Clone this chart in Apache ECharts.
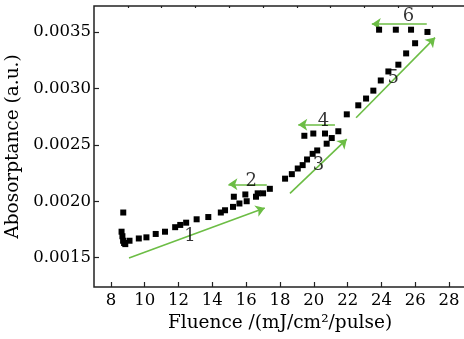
<!DOCTYPE html>
<html>
<head>
<meta charset="utf-8">
<script src="https://cdn.jsdelivr.net/npm/echarts@6/dist/echarts.min.js"></script>
<style>html,body{margin:0;padding:0;background:#fff}#c{width:464px;height:339px}</style>
</head>
<body>
<div id="c"></div>
<script>
// Measured points
const fluence = [8.63, 8.68, 8.72, 8.78, 8.85, 8.73, 9.1, 9.65, 10.1, 10.65, 11.2, 11.8, 12.1, 12.45, 13.07, 13.76, 14.5, 14.75, 15.22, 15.27, 15.6, 15.95, 16.03, 16.58, 16.68, 17.0, 17.4,
  18.3, 18.7, 19.05, 19.34, 19.6, 19.93, 20.2, 20.76, 21.06, 21.45, 19.44, 19.97, 20.66,
  21.95, 22.63, 23.09, 23.52, 23.96, 24.41, 25.0, 25.46, 25.99, 26.72, 23.86, 24.85, 25.75];
const absorptance = [0.00173, 0.00169, 0.00165, 0.00163, 0.00162, 0.00190, 0.00165, 0.00167, 0.00168, 0.00171, 0.00173, 0.00177, 0.00179, 0.00181, 0.00184, 0.00186, 0.00190, 0.00192, 0.00195, 0.00204, 0.00198, 0.00206, 0.00200, 0.00204, 0.00207, 0.00207, 0.00211,
  0.00220, 0.00224, 0.00229, 0.00232, 0.00237, 0.00242, 0.00245, 0.00251, 0.00256, 0.00262, 0.00258, 0.00260, 0.00260,
  0.00277, 0.00285, 0.00291, 0.00298, 0.00307, 0.00315, 0.00321, 0.00331, 0.00340, 0.00350, 0.00352, 0.00352, 0.00352];

// Arrows (start -> end)
const arrowStartX = [9.07, 17.22, 18.59, 21.25, 22.5, 26.68];
const arrowStartY = [0.001497, 0.00215, 0.00207, 0.002677, 0.00274, 0.00357];
const arrowEndX = [17.1, 14.95, 21.95, 19.08, 27.17, 23.43];
const arrowEndY = [0.00194, 0.00215, 0.00255, 0.002677, 0.00345, 0.00357];

// Region labels
const labelText = ['1', '2', '3', '4', '5', '6'];
const labelX = [12.67, 16.3, 20.27, 20.57, 24.7, 25.6];
const labelY = [0.00169, 0.00218, 0.00232, 0.00271, 0.00309, 0.00364];

// Ticks
const xMajor = [8, 10, 12, 14, 16, 18, 20, 22, 24, 26, 28];
const xMinor = [9, 11, 13, 15, 17, 19, 21, 23, 25, 27];
const yMajor = [0.0015, 0.0020, 0.0025, 0.0030, 0.0035];
const yMinor = [0.00175, 0.00225, 0.00275, 0.00325];

const FONT = 'DejaVu Serif';
const chart = echarts.init(document.getElementById('c'));

const xBase = {type: 'value', min: 7, max: 29, splitLine: {show: false}, axisLine: {show: false}};
const yBase = {type: 'value', min: 0.00124, max: 0.00373, splitLine: {show: false}, axisLine: {show: false}};

chart.setOption({
  animation: false,
  grid: {left: 94, top: 6, width: 372, height: 281, outerBoundsMode: 'none', containLabel: false,
         show: true, borderColor: '#222', borderWidth: 1.5, backgroundColor: 'transparent'},
  xAxis: [
    Object.assign({}, xBase, {
      name: 'Fluence /(mJ/cm²/pulse)', nameLocation: 'middle', nameGap: 25,
      nameTextStyle: {fontFamily: FONT, fontSize: 18.5, color: '#000'},
      axisTick: {show: true, inside: true, length: 5, lineStyle: {color: '#222', width: 1.2}, customValues: xMajor},
      axisLabel: {customValues: xMajor, margin: 5, fontFamily: FONT, fontSize: 16.5, color: '#000'}
    }),
    Object.assign({}, xBase, {
      axisTick: {show: true, inside: true, length: 2, lineStyle: {color: '#222', width: 1.2}, customValues: xMinor},
      axisLabel: {show: false}
    })
  ],
  yAxis: [
    Object.assign({}, yBase, {
      name: 'Abosorptance (a.u.)', nameLocation: 'middle', nameGap: 65,
      nameTextStyle: {fontFamily: FONT, fontSize: 18.5, color: '#000'},
      axisTick: {show: true, inside: true, length: 5, lineStyle: {color: '#222', width: 1.2}, customValues: yMajor},
      axisLabel: {customValues: yMajor, margin: 3, fontFamily: FONT, fontSize: 16.5, color: '#000', formatter: v => v.toFixed(4)}
    }),
    Object.assign({}, yBase, {
      axisTick: {show: true, inside: true, length: 2, lineStyle: {color: '#222', width: 1.2}, customValues: yMinor},
      axisLabel: {show: false}
    })
  ],
  series: [
    {
      type: 'lines', coordinateSystem: 'cartesian2d', xAxisIndex: 0, yAxisIndex: 0,
      symbol: ['none', 'arrow'], symbolSize: 9,
      lineStyle: {color: '#6cbd45', width: 1.6, opacity: 1},
      data: arrowStartX.map((x, i) => ({coords: [[x, arrowStartY[i]], [arrowEndX[i], arrowEndY[i]]]})),
      z: 2
    },
    {
      type: 'scatter', xAxisIndex: 0, yAxisIndex: 0,
      symbol: 'rect', symbolSize: 6,
      itemStyle: {color: '#000', opacity: 1},
      data: fluence.map((x, i) => [x, absorptance[i]]),
      z: 3
    },
    {
      type: 'scatter', xAxisIndex: 0, yAxisIndex: 0,
      symbolSize: 1, itemStyle: {color: 'rgba(0,0,0,0)'},
      label: {show: true, position: 'inside', formatter: p => p.data[2], fontFamily: FONT, fontSize: 18, color: '#000'},
      data: labelX.map((x, i) => [x, labelY[i], labelText[i]]),
      z: 4
    }
  ]
});
</script>
</body>
</html>
